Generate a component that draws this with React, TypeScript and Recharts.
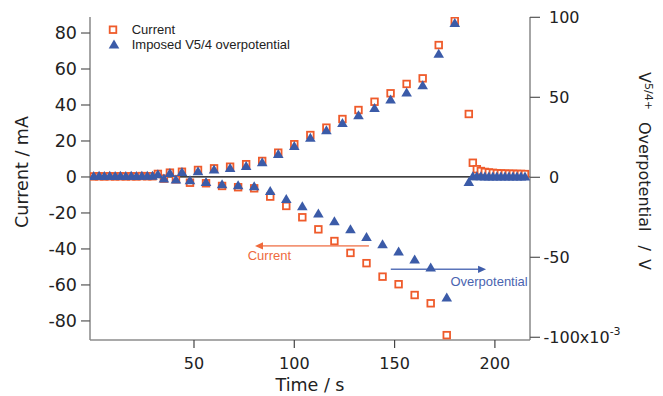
import React from "react";
import {
  ScatterChart,
  Scatter,
  XAxis,
  YAxis,
  ReferenceLine,
  ReferenceDot,
} from "recharts";

// time (s), current (mA), imposed overpotential (mV)
const times = [
  0, 2.7, 5.3, 8, 10.7, 13.3, 16, 18.7, 21.3, 24, 26.7, 29.3, 32, 35, 38, 41, 44,
  48, 52, 56, 60, 64, 68, 72, 76, 80, 84, 88, 92, 96, 100, 104, 108, 112, 116,
  120, 124, 128, 132, 136, 140, 144, 148, 152, 156, 160, 164, 168, 172, 176, 180,
  187, 189, 191, 193, 195, 197, 199, 201, 203, 205, 207, 209, 211, 213, 215,
];
const currentMA = [
  0.3, 0.4, 0.3, 0.4, 0.3, 0.4, 0.3, 0.4, 0.3, 0.5, 0.4, 0.4, 1.7, -0.9, 2.4,
  -1.3, 2.9, -3.2, 3.9, -3.5, 4.8, -5.0, 5.7, -5.7, 7.1, -6.3, 8.9, -10.9, 13.5,
  -16.1, 18.2, -22.4, 23.3, -29.1, 27.4, -35.6, 32.2, -42.2, 37.2, -47.9, 41.8,
  -55.4, 46.5, -59.6, 51.7, -65.6, 54.8, -70.2, 73.3, -87.9, 86.7, 35.0, 7.9,
  4.3, 3.3, 2.8, 2.5, 2.3, 2.1, 2.0, 1.9, 1.8, 1.8, 1.7, 1.7, 1.6,
];
const overpotentialMV = [
  0.8, 0.9, 0.8, 0.9, 0.8, 0.9, 0.8, 0.9, 0.8, 1.0, 0.9, 0.9, 1.9, -0.7, 2.7,
  -1.4, 3.3, -1.9, 3.8, -2.9, 4.8, -4.4, 5.8, -5.0, 7.0, -5.6, 9.4, -8.5, 14.5,
  -13.6, 19.6, -18.1, 24.8, -22.7, 29.4, -27.5, 33.9, -32.5, 38.8, -37.3, 43.3,
  -41.9, 48.6, -46.4, 53.0, -51.4, 57.5, -56.4, 77.3, -75.2, 96.4, -3.0, 0.6,
  0.6, 0.6, 0.5, 0.5, 0.5, 0.5, 0.5, 0.5, 0.5, 0.5, 0.5, 0.5, 0.5,
];
const xTicks = [50, 100, 150, 200];
const leftTicks = [-80, -60, -40, -20, 0, 20, 40, 60, 80];
const rightTicks = [-100, -50, 0, 50, 100];

const ORANGE = "#EF5B2B";
const BLUE = "#3B5BA8";
const AXIS_FONT = "DejaVu Sans, sans-serif";
const LABEL_FONT = "Liberation Sans, Arial, sans-serif";

const W = 663;
const H = 396;
const PLOT_L = 90;
const PLOT_R = 530;
const PLOT_T = 17;
const PLOT_B = 340;

const currentPts = times.map((t, i) => ({ t, v: currentMA[i] }));
const overPts = times.map((t, i) => ({ t, v: overpotentialMV[i] }));

function SquareMark(p: any) {
  if (p.cx == null || p.cy == null) return null;
  return (
    <rect
      x={p.cx - 3.3}
      y={p.cy - 3.3}
      width={6.6}
      height={6.6}
      fill="#fff"
      stroke={ORANGE}
      strokeWidth={1.8}
    />
  );
}

function TriangleMark(p: any) {
  if (p.cx == null || p.cy == null) return null;
  const { cx, cy } = p;
  return (
    <polygon
      points={`${cx},${cy - 5} ${cx - 5.3},${cy + 4} ${cx + 5.3},${cy + 4}`}
      fill={BLUE}
    />
  );
}

function XTick(p: any) {
  return (
    <text
      x={p.x}
      y={PLOT_B + 29}
      textAnchor="middle"
      fontSize={16}
      fontFamily={AXIS_FONT}
      fill="#222"
    >
      {p.payload.value}
    </text>
  );
}

function LeftTick(p: any) {
  return (
    <text
      x={PLOT_L - 13}
      y={p.y + 6.3}
      textAnchor="end"
      fontSize={17.5}
      fontFamily={AXIS_FONT}
      fill="#222"
    >
      {p.payload.value}
    </text>
  );
}

function RightTick(p: any) {
  const v = p.payload.value;
  const x = v < 0 ? PLOT_R + 13.5 : PLOT_R + 19;
  if (v === -100) {
    return (
      <text x={x} y={p.y + 5.8} fontSize={16} fontFamily={AXIS_FONT} fill="#222">
        -100x10
        <tspan dy={-8} fontSize={11}>
          -3
        </tspan>
      </text>
    );
  }
  return (
    <text x={x} y={p.y + 5.8} fontSize={16} fontFamily={AXIS_FONT} fill="#222">
      {v}
    </text>
  );
}

function XTitle() {
  return (
    <text
      x={(PLOT_L + PLOT_R) / 2}
      y={390.5}
      textAnchor="middle"
      fontSize={17.5}
      fontFamily={AXIS_FONT}
      fill="#222"
    >
      Time / s
    </text>
  );
}

function LeftTitle() {
  return (
    <text
      transform="translate(27.5,172) rotate(-90)"
      textAnchor="middle"
      fontSize={17.5}
      fontFamily={AXIS_FONT}
      fill="#222"
    >
      Current / mA
    </text>
  );
}

function RightTitle() {
  return (
    <text
      transform="translate(639,72) rotate(90)"
      fontSize={16}
      fontFamily={AXIS_FONT}
      fill="#222"
    >
      V
      <tspan dy={-6} fontSize={11}>
        5/4+
      </tspan>
      <tspan dy={6} dx={12}>
        Overpotential
      </tspan>
      <tspan dx={14}>/</tspan>
      <tspan dx={8}>V</tspan>
    </text>
  );
}

function headLeft(color: string) {
  return (p: any) => (
    <polygon
      points={`${p.cx},${p.cy} ${p.cx + 8},${p.cy - 3.6} ${p.cx + 8},${p.cy + 3.6}`}
      fill={color}
    />
  );
}

function headRight(color: string) {
  return (p: any) => (
    <polygon
      points={`${p.cx},${p.cy} ${p.cx - 8},${p.cy - 3.6} ${p.cx - 8},${p.cy + 3.6}`}
      fill={color}
    />
  );
}

function textAt(label: string, color: string) {
  return (p: any) => (
    <text
      x={p.cx}
      y={p.cy}
      textAnchor="middle"
      fontSize={13}
      fontFamily={LABEL_FONT}
      fill={color}
    >
      {label}
    </text>
  );
}

function LegendBox() {
  return (
    <svg
      width={240}
      height={40}
      style={{ position: "absolute", left: 100, top: 16, overflow: "visible" }}
    >
      <rect x={9.7} y={10.4} width={6.6} height={6.6} fill="#fff" stroke={ORANGE} strokeWidth={1.8} />
      <text x={31.7} y={18} fontSize={13} fontFamily={LABEL_FONT} fill="#222">
        Current
      </text>
      <polygon points="14,23.5 8.7,32.5 19.3,32.5" fill={BLUE} />
      <text x={31.7} y={32.5} fontSize={13} fontFamily={LABEL_FONT} fill="#222">
        Imposed V5/4 overpotential
      </text>
    </svg>
  );
}

export default function App() {
  return (
    <div
      style={{
        position: "absolute",
        left: 0,
        top: 0,
        width: W,
        height: H,
        background: "#fff",
      }}
    >
      <ScatterChart
        width={W}
        height={H}
        margin={{ top: PLOT_T, right: W - PLOT_R - 70, bottom: H - PLOT_B - 40, left: PLOT_L - 60 }}
      >
        <XAxis
          type="number"
          dataKey="t"
          domain={[-1.84, 217.5]}
          ticks={xTicks}
          allowDataOverflow
          height={40}
          tickSize={8}
          axisLine={{ stroke: "#555", strokeWidth: 1.2 }}
          tickLine={{ stroke: "#444", strokeWidth: 1.2 }}
          tick={<XTick />}
          label={<XTitle />}
        />
        <YAxis
          yAxisId="left"
          type="number"
          dataKey="v"
          domain={[-90.6, 88.9]}
          ticks={leftTicks}
          allowDataOverflow
          width={60}
          tickSize={9}
          axisLine={{ stroke: "#888", strokeWidth: 1.5 }}
          tickLine={{ stroke: "#555", strokeWidth: 1.2 }}
          tick={<LeftTick />}
          label={<LeftTitle />}
        />
        <YAxis
          yAxisId="right"
          orientation="right"
          type="number"
          dataKey="v"
          domain={[-101.7, 100.2]}
          ticks={rightTicks}
          allowDataOverflow
          width={70}
          tickSize={10}
          axisLine={{ stroke: "#888", strokeWidth: 1.5 }}
          tickLine={{ stroke: "#555", strokeWidth: 1.2 }}
          tick={<RightTick />}
          label={<RightTitle />}
        />
        <ReferenceLine yAxisId="left" y={0} stroke="#000" strokeWidth={1.3} />

        <Scatter
          yAxisId="left"
          data={currentPts}
          shape={SquareMark}
          isAnimationActive={false}
        />
        <Scatter
          yAxisId="right"
          data={overPts}
          shape={TriangleMark}
          isAnimationActive={false}
        />

        <ReferenceLine
          yAxisId="left"
          segment={[
            { x: 137.2, y: -38.3 },
            { x: 83, y: -38.3 },
          ]}
          stroke="#F39576"
          strokeWidth={1.6}
        />
        <ReferenceDot yAxisId="left" x={80.4} y={-38.3} shape={headLeft("#F06A3C")} />
        <ReferenceDot yAxisId="left" x={87.6} y={-46.4} shape={textAt("Current", "#EE6A3E")} />

        <ReferenceLine
          yAxisId="left"
          segment={[
            { x: 148.1, y: -51.3 },
            { x: 193, y: -51.3 },
          ]}
          stroke="#5A74BA"
          strokeWidth={1.4}
        />
        <ReferenceDot yAxisId="left" x={195.6} y={-51.3} shape={headRight("#3F5DAA")} />
        <ReferenceDot
          yAxisId="left"
          x={197.1}
          y={-60.6}
          shape={textAt("Overpotential", "#4A64B0")}
        />
      </ScatterChart>
      <LegendBox />
    </div>
  );
}
